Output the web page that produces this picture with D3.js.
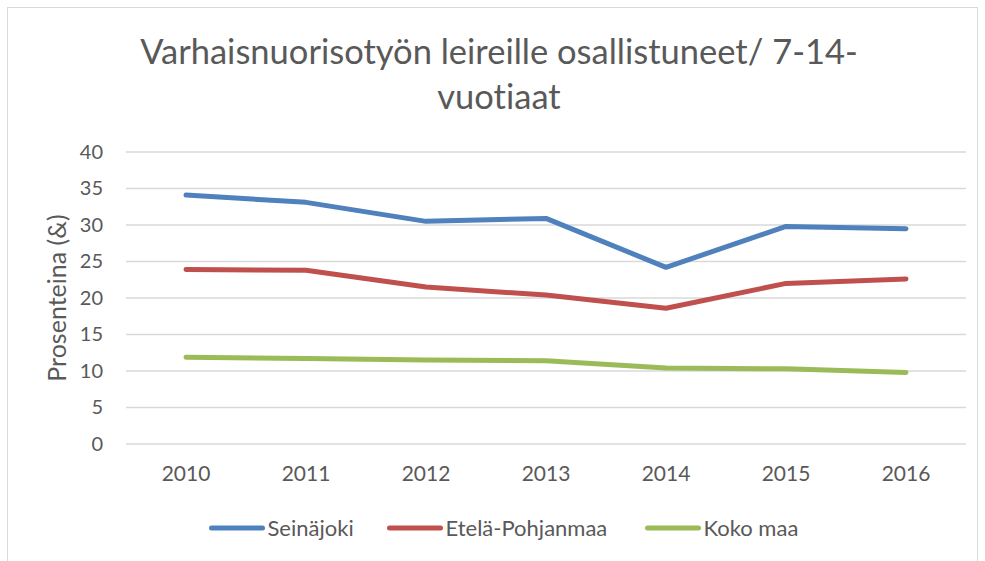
<!DOCTYPE html>
<html>
<head>
<meta charset="utf-8">
<script src="https://cdn.jsdelivr.net/npm/d3@7"></script>
<style>
  body { margin: 0; background: #fff; }
  text { font-family: Lato, "Open Sans", sans-serif; fill: #595959; font-variant-ligatures: none; }
</style>
</head>
<body>
<div id="chart"></div>
<script>
const years = ["2010", "2011", "2012", "2013", "2014", "2015", "2016"];
const seinajoki = [34.1, 33.1, 30.5, 30.9, 24.2, 29.8, 29.5];
const etelaPohjanmaa = [23.9, 23.8, 21.5, 20.4, 18.6, 22.0, 22.6];
const kokoMaa = [11.9, 11.7, 11.5, 11.4, 10.4, 10.3, 9.8];
const yTicks = [0, 5, 10, 15, 20, 25, 30, 35, 40];
const seriesNames = ["Seinäjoki", "Etelä-Pohjanmaa", "Koko maa"];
const colors = ["#4F81BD", "#C0504D", "#9BBB59"];

const series = [seinajoki, etelaPohjanmaa, kokoMaa].map((vals, i) => ({
    name: seriesNames[i], color: colors[i], values: vals
}));

const W = 985, H = 561;
const margin = {top: 152, right: 19, bottom: 117, left: 126},
    width = W - margin.left - margin.right,
    height = H - margin.top - margin.bottom;

const svg = d3.select("#chart").append("svg")
    .attr("width", W)
    .attr("height", H);

// outer chart frame
svg.append("rect")
    .attr("x", 7.5).attr("y", 7.5)
    .attr("width", 970).attr("height", 600)
    .attr("fill", "none")
    .attr("stroke", "#D9D9D9")
    .attr("stroke-width", 1);

// title
const title = svg.append("text")
    .attr("text-anchor", "middle")
    .style("font-size", "34.5px");
title.append("tspan").attr("x", 499).attr("y", 64).text("Varhaisnuorisotyön leireille osallistuneet/ 7-14-");
title.append("tspan").attr("x", 499).attr("y", 109).text("vuotiaat");

const g = svg.append("g")
    .attr("transform", "translate(" + margin.left + "," + margin.top + ")");

const x = d3.scaleBand()
    .domain(years)
    .range([0, width]);

const y = d3.scaleLinear()
    .domain([0, 40])
    .range([height, 0]);

// gridlines
g.append("g")
    .selectAll("line")
    .data(yTicks)
    .enter()
    .append("line")
    .attr("x1", 0)
    .attr("x2", width)
    .attr("y1", d => y(d))
    .attr("y2", d => y(d))
    .attr("stroke", "#D9D9D9")
    .attr("stroke-width", 1.5);

// y axis
const yAxis = g.append("g")
    .call(d3.axisLeft(y).tickValues(yTicks).tickSize(0).tickPadding(23));
yAxis.select(".domain").remove();
yAxis.selectAll("text")
    .style("font-size", "20px")
    .attr("fill", "#595959");

// x axis
const xAxis = g.append("g")
    .attr("transform", "translate(0," + height + ")")
    .call(d3.axisBottom(x).tickSize(0).tickPadding(22));
xAxis.select(".domain").remove();
xAxis.selectAll("text")
    .style("font-size", "21px")
    .attr("fill", "#595959");

// y axis title
svg.append("text")
    .attr("transform", "translate(66," + (margin.top + height / 2) + ")rotate(-90)")
    .attr("text-anchor", "middle")
    .style("font-size", "25px")
    .text("Prosenteina (&)");

// lines
const line = d3.line()
    .x((d, i) => x(years[i]) + x.bandwidth() / 2)
    .y(d => y(d));

g.selectAll("path.series")
    .data(series)
    .enter()
    .append("path")
    .attr("class", "series")
    .attr("d", d => line(d.values))
    .attr("fill", "none")
    .attr("stroke", d => d.color)
    .attr("stroke-width", 5)
    .attr("stroke-linecap", "round")
    .attr("stroke-linejoin", "round");

// legend
const legendX = [211.5, 389.5, 647.5];
const legend = svg.append("g").attr("transform", "translate(0,528)");
const items = legend.selectAll("g")
    .data(series)
    .enter()
    .append("g")
    .attr("transform", (d, i) => "translate(" + legendX[i] + ",0)");
items.append("line")
    .attr("x1", 0).attr("x2", 51)
    .attr("y1", 0).attr("y2", 0)
    .attr("stroke", d => d.color)
    .attr("stroke-width", 5)
    .attr("stroke-linecap", "round");
items.append("text")
    .attr("x", 56)
    .attr("y", 8)
    .style("font-size", "22px")
    .text(d => d.name);
</script>
</body>
</html>
